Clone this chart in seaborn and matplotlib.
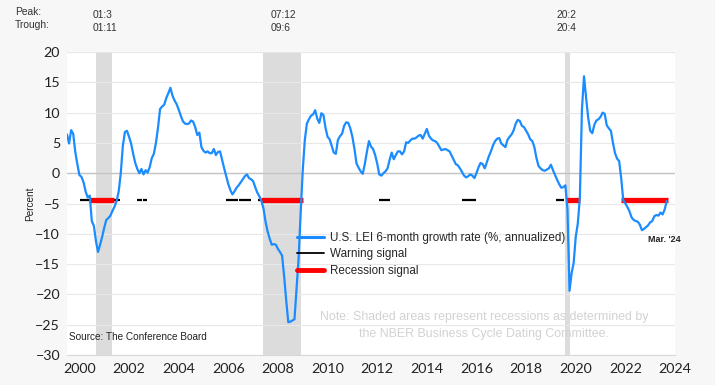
import numpy as np
import pandas as pd
import seaborn as sns
import matplotlib.pyplot as plt
from matplotlib.lines import Line2D
from matplotlib.ticker import FixedLocator, NullFormatter

# U.S. LEI 6-month growth rate (%, annualized), monthly
lei_2000 = [6.4, 4.9, 7.1, 6.5, 3.5, 1.5, -0.3, -0.6, -1.5, -3.0, -4.0, -3.7]
lei_2001 = [-7.9, -8.7, -11.2, -13.0, -11.8, -10.5, -9.0, -7.7, -7.4, -7.0, -6.2, -5.5]
lei_2002 = [-4.6, -3.0, 0.0, 4.5, 6.8, 7.0, 6.0, 4.9, 3.2, 1.7, 0.7, 0.0]
lei_2003 = [0.7, -0.2, 0.5, 0.1, 1.0, 2.5, 3.2, 5.0, 7.5, 10.6, 11.0, 11.3]
lei_2004 = [12.4, 13.2, 14.1, 12.8, 12.0, 11.4, 10.5, 9.5, 8.6, 8.2, 8.1, 8.2]
lei_2005 = [8.7, 8.5, 7.6, 6.3, 6.7, 4.3, 3.7, 3.4, 3.6, 3.3, 3.3, 4.0]
lei_2006 = [3.0, 3.5, 3.6, 2.2, 0.8, -0.5, -1.8, -2.8, -3.5, -3.0, -2.4, -2.0]
lei_2007 = [-1.5, -1.0, -0.5, -0.2, -0.8, -1.0, -1.3, -2.3, -3.2, -3.8, -4.6, -5.8]
lei_2008 = [-8.0, -9.6, -10.8, -11.8, -11.7, -11.8, -12.5, -13.0, -13.6, -17.0, -21.0, -24.6]
lei_2009 = [-24.5, -24.3, -24.1, -19.0, -14.0, -6.5, 0.5, 5.5, 8.2, 8.9, 9.5, 9.7]
lei_2010 = [10.4, 9.0, 8.3, 9.9, 9.6, 7.5, 6.0, 5.6, 4.5, 3.4, 3.2, 5.5]
lei_2011 = [6.1, 6.5, 7.8, 8.4, 8.3, 7.4, 6.0, 4.0, 1.6, 0.9, 0.3, -0.1]
lei_2012 = [1.5, 3.5, 5.3, 4.4, 4.0, 3.0, 1.6, -0.2, -0.4, 0.0, 0.3, 0.8]
lei_2013 = [2.2, 3.4, 2.3, 3.0, 3.6, 3.6, 3.1, 3.6, 5.1, 5.0, 5.4, 5.7]
lei_2014 = [5.7, 5.9, 6.2, 6.3, 5.7, 6.5, 7.3, 6.2, 5.7, 5.4, 5.3, 5.0]
lei_2015 = [4.4, 3.8, 3.9, 4.0, 3.8, 3.6, 2.9, 2.2, 1.5, 1.3, 0.8, 0.2]
lei_2016 = [-0.4, -0.7, -0.5, -0.2, -0.4, -0.8, 0.0, 1.0, 1.7, 1.5, 0.8, 1.8]
lei_2017 = [2.8, 3.6, 4.6, 5.3, 5.7, 5.8, 4.9, 4.6, 4.3, 5.5, 6.0, 6.4]
lei_2018 = [7.1, 8.2, 8.8, 8.6, 7.8, 7.6, 7.0, 6.4, 5.6, 5.3, 4.3, 2.5]
lei_2019 = [1.2, 0.8, 0.5, 0.4, 0.6, 0.8, 1.4, 0.5, -0.3, -1.1, -1.8, -2.4]
lei_2020 = [-2.3, -2.0, -6.0, -19.4, -16.5, -14.8, -10.5, -8.3, -4.0, 10.5, 16.0, 12.5]
lei_2021 = [9.2, 7.0, 6.6, 8.0, 8.7, 8.9, 9.3, 10.0, 9.8, 7.9, 7.4, 7.0]
lei_2022 = [5.0, 3.3, 2.4, 2.0, -0.9, -4.5, -5.0, -5.6, -6.3, -7.3, -7.7, -7.9]
lei_2023 = [-8.0, -8.5, -9.4, -9.2, -8.9, -8.6, -8.1, -7.9, -7.1, -6.9, -7.0, -6.5]
lei_2024 = [-6.8, -6.0, -4.6]

# signal periods (decimal years) and the level they are drawn at
signal_level = -4.4
warning_runs = [(2000.52, 2000.90), (2001.89, 2002.13), (2002.83, 2003.01),
                (2003.05, 2003.23), (2006.39, 2006.88), (2006.92, 2007.41),
                (2007.68, 2007.80), (2012.58, 2013.01), (2015.90, 2016.50),
                (2019.69, 2020.03)]
recession_runs = [(2000.90, 2001.89), (2007.80, 2009.49), (2020.12, 2020.66),
                  (2022.34, 2024.21)]

# NBER recessions
peaks = ['2001-03', '2007-12', '2020-02']
troughs = ['2001-11', '2009-06', '2020-04']

lei = (lei_2000 + lei_2001 + lei_2002 + lei_2003 + lei_2004 + lei_2005 + lei_2006
       + lei_2007 + lei_2008 + lei_2009 + lei_2010 + lei_2011 + lei_2012 + lei_2013
       + lei_2014 + lei_2015 + lei_2016 + lei_2017 + lei_2018 + lei_2019 + lei_2020
       + lei_2021 + lei_2022 + lei_2023 + lei_2024)
dates = pd.date_range('2000-01-01', periods=len(lei), freq='MS')
df = pd.DataFrame({'t': dates.year + (dates.month - 1) / 12, 'lei': lei})


def dec_year(s):
    d = pd.Timestamp(s)
    return d.year + (d.month - 1) / 12


sns.set_style('white')
plt.rcParams['font.family'] = ['Lato', 'DejaVu Sans']

fig = plt.figure(figsize=(7.15, 3.85), dpi=100, facecolor='#f7f7f7')
ax = fig.add_axes([67 / 715, 1 - 355 / 385, 608 / 715, 303 / 385])
ax.set_facecolor('white')

blue = '#1a8cff'
ann = ['Liberation Sans', 'DejaVu Sans']

# recession shading + labels above the chart
for p, tr in zip(peaks, troughs):
    x0, x1 = dec_year(p), dec_year(tr)
    ax.axvspan(x0, x1, color='#dcdcdc', lw=0, zorder=0.5)
    mid = (x0 + x1) / 2 - 0.45
    ax.text(mid, 1.123, f"{p[2:4]}:{int(p[5:])}", transform=ax.get_xaxis_transform(),
            fontsize=7.4, family=ann, color='#333333', ha='left', va='center')
    ax.text(mid, 1.080, f"{tr[2:4]}:{int(tr[5:])}", transform=ax.get_xaxis_transform(),
            fontsize=7.4, family=ann, color='#333333', ha='left', va='center')

fig.text(15 / 715, 1 - 12 / 385, 'Peak:', fontsize=7.4, family=ann, color='#333333', va='center')
fig.text(15 / 715, 1 - 25 / 385, 'Trough:', fontsize=7.4, family=ann, color='#333333', va='center')

ax.axhline(0, color='#c4c4c4', lw=1.0, zorder=1)

for a, b in warning_runs:
    ax.hlines(signal_level, a, b, color='black', lw=1.6, zorder=3)
for a, b in recession_runs:
    ax.hlines(signal_level, a, b, color='#ff0000', lw=3.8, zorder=3)

sns.lineplot(data=df, x='t', y='lei', color=blue, lw=1.6, ax=ax, zorder=4)

ax.set_xlim(2000, 2024.5)
ax.set_ylim(-30, 20)
ax.set_yticks(np.arange(-30, 21, 5))
ax.yaxis.grid(True, color='#e8e8e8', lw=0.8)
ax.set_axisbelow(True)

ax.xaxis.set_major_locator(FixedLocator(np.arange(2000, 2025)))
ax.xaxis.set_major_formatter(NullFormatter())
ax.xaxis.set_minor_locator(FixedLocator(np.arange(2000, 2025, 2) + 0.5))
ax.set_xticklabels([str(y) for y in range(2000, 2025, 2)], minor=True)
ax.tick_params(axis='x', which='major', length=3, color='#c8c8c8', direction='out')
ax.tick_params(axis='x', which='minor', length=0, pad=6, labelsize=10.3, labelcolor='#222222')
ax.tick_params(axis='y', length=0, pad=5, labelsize=10.3, labelcolor='#222222')

for s in ['top', 'right', 'left']:
    ax.spines[s].set_visible(False)
ax.spines['bottom'].set_color('#d8d8d8')
ax.spines['bottom'].set_linewidth(0.8)

ax.set_xlabel('')
ax.set_ylabel('Percent', fontsize=7.2, family=ann, color='#222222', labelpad=0)

handles = [Line2D([], [], color=blue, lw=2.2),
           Line2D([], [], color='black', lw=1.3),
           Line2D([], [], color='#ff0000', lw=3.5)]
labels = ['U.S. LEI 6-month growth rate (%, annualized)', 'Warning signal', 'Recession signal']
leg = ax.legend(handles, labels, loc='upper left', bbox_to_anchor=(297 / 715, 1 - 232 / 385),
                bbox_transform=fig.transFigure, frameon=False, borderpad=0, borderaxespad=0,
                handlelength=2.3, handletextpad=0.55, labelspacing=0.38,
                prop={'family': ann, 'size': 8.4})
leg.set_zorder(5)

ax.text(2024.05, -11.0, "Mar. '24", fontsize=6.5, family=ann, fontweight='bold',
        color='#222222', ha='center', va='center', zorder=5)

ax.text(2016.8, -25.1, 'Note: Shaded areas represent recessions as determined by\n'
        'the NBER Business Cycle Dating Committee.', fontsize=8.9, family=ann,
        color='#d2d2d2', ha='center', va='center', linespacing=1.5, zorder=5)

ax.text(2000.1, -27.0, 'Source: The Conference Board', fontsize=7.2, family=ann,
        color='#222222', ha='left', va='center', zorder=5)

fig.savefig('out.png', dpi=100, facecolor=fig.get_facecolor())
